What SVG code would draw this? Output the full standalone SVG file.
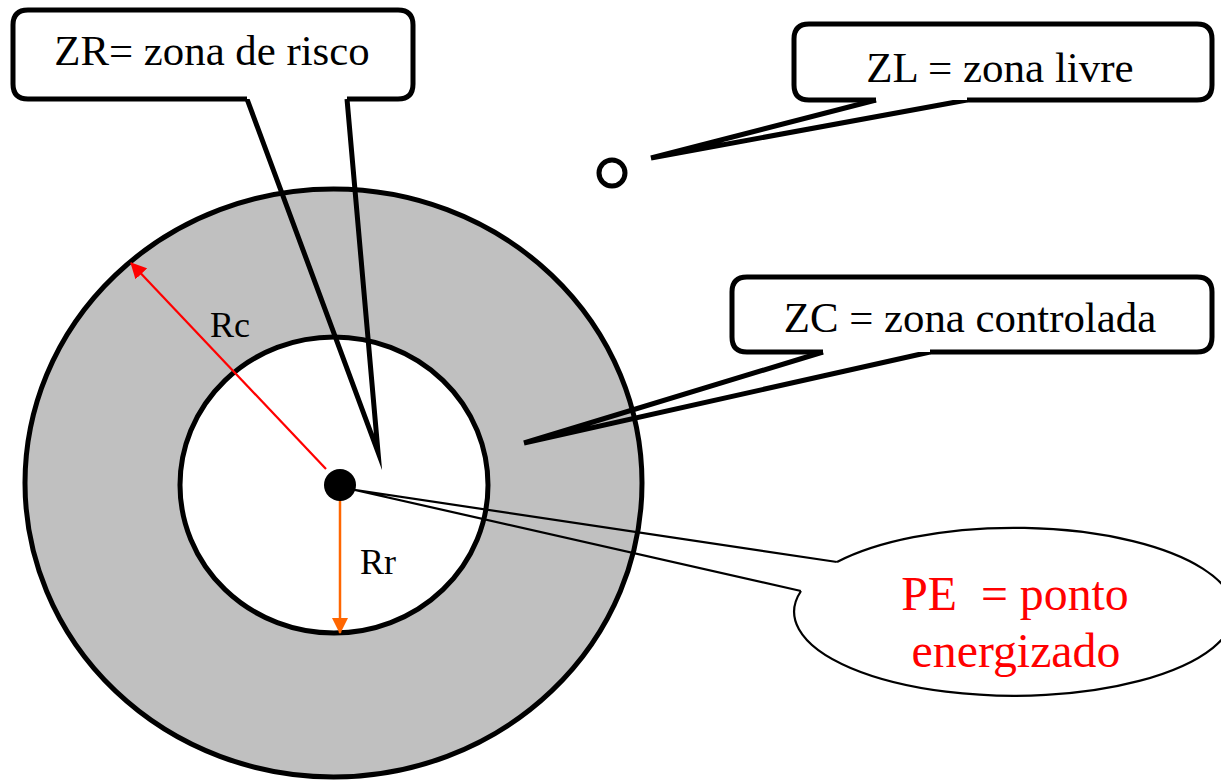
<svg xmlns="http://www.w3.org/2000/svg" width="1221" height="781" viewBox="0 0 1221 781">
  <style>
    .lbl { font-family: "Liberation Serif", "Times New Roman", serif; fill: #000; }
    .red { fill: #FF0000; }
    .box { fill: #fff; stroke: none; }
    .out { fill: none; stroke: #000; stroke-width: 5; stroke-linejoin: miter; stroke-miterlimit: 20; }
    .ring { stroke: #000; stroke-width: 5; }
    .thin { fill: none; stroke: #000; stroke-width: 2.2; stroke-miterlimit: 30; }
  </style>
  <defs>
    <marker id="arrOrange" viewBox="0 0 16 16" markerWidth="16" markerHeight="16" refX="15" refY="8" orient="auto" markerUnits="userSpaceOnUse">
      <path d="M0,0 L16,8 L0,16 Z" fill="#FF6600"/>
    </marker>
    <marker id="arrRed" viewBox="0 0 16 16" markerWidth="16" markerHeight="16" refX="15" refY="8" orient="auto" markerUnits="userSpaceOnUse">
      <path d="M0,0 L16,8 L0,16 Z" fill="#FF0000"/>
    </marker>
  </defs>
  <rect width="1221" height="781" fill="#fff"/>

  <g id="zona-controlada-ring">
    <ellipse class="ring" cx="333.5" cy="483" rx="308.5" ry="294" fill="#C0C0C0"/>
  </g>
  <g id="zona-risco-circle">
    <ellipse class="ring" cx="334" cy="485" rx="154" ry="148" fill="#FFFFFF"/>
  </g>

  <g id="radius-rc">
    <line x1="326" y1="469" x2="131" y2="263" stroke="#FF0000" stroke-width="2.2" marker-end="url(#arrRed)"/>
    <text class="lbl" x="210" y="337" font-size="36">Rc</text>
  </g>
  <g id="radius-rr">
    <line x1="340" y1="485" x2="340" y2="633" stroke="#FF6600" stroke-width="2.5" marker-end="url(#arrOrange)"/>
    <text class="lbl" x="360" y="574" font-size="36">Rr</text>
  </g>

  <g id="ponto-energizado-dot">
    <circle cx="340" cy="485" r="16" fill="#000"/>
  </g>

  <g id="zl-point">
    <circle cx="612" cy="173" r="13" fill="#fff" stroke="#000" stroke-width="5"/>
  </g>

  <g id="connectors">
    <path class="out" d="M247,99 L378,452 L347,99"/>
    <path class="out" d="M876,100 L651,158 L967,100"/>
    <path class="out" d="M823,352 L524,443 L930,352"/>
    <path class="thin" d="M837,562 L355,490 L801,591"/>
  </g>

  <g id="callout-zr">
    <rect class="box" x="13" y="10" width="400" height="89" rx="15"/>
    <path class="out" d="M247,99 H28 Q13,99 13,84 V25 Q13,10 28,10 H398 Q413,10 413,25 V84 Q413,99 398,99 H347"/>
    <text class="lbl" x="212" y="65" font-size="42.8" text-anchor="middle">ZR= zona de risco</text>
  </g>

  <g id="callout-zl">
    <rect class="box" x="794" y="24" width="418" height="76" rx="15"/>
    <path class="out" d="M876,100 H809 Q794,100 794,85 V39 Q794,24 809,24 H1197 Q1212,24 1212,39 V85 Q1212,100 1197,100 H967"/>
    <text class="lbl" x="1000" y="82" font-size="43" text-anchor="middle">ZL = zona livre</text>
  </g>

  <g id="callout-zc">
    <rect class="box" x="732" y="277" width="480" height="75" rx="15"/>
    <path class="out" d="M823,352 H747 Q732,352 732,337 V292 Q732,277 747,277 H1197 Q1212,277 1212,292 V337 Q1212,352 1197,352 H930"/>
    <text class="lbl" x="970" y="332" font-size="42.8" text-anchor="middle">ZC = zona controlada</text>
  </g>

  <g id="callout-pe">
    <ellipse cx="1013" cy="613" rx="220" ry="84" fill="#fff"/>
    <path class="thin" d="M837,562 A220,84 0 1 1 801,591"/>
    <text class="lbl red" x="1015" y="610" font-size="47.8" text-anchor="middle" xml:space="preserve">PE  = ponto</text>
    <text class="lbl red" x="1016" y="667" font-size="47.8" text-anchor="middle">energizado</text>
  </g>
</svg>
